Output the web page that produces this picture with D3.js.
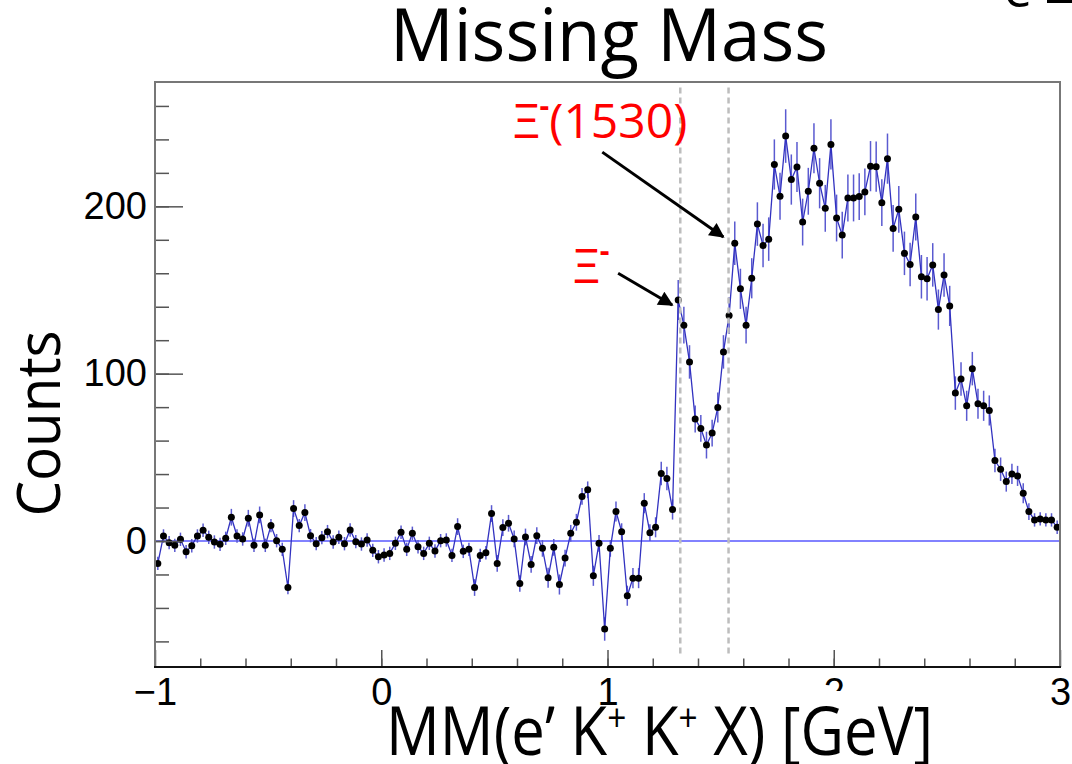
<!DOCTYPE html>
<html>
<head>
<meta charset="utf-8">
<script src="https://cdn.jsdelivr.net/npm/d3@7"></script>
<style>
  body { margin: 0; background: #fff; }
  svg { display: block; }
</style>
</head>
<body>
<svg id="chart" width="1072" height="764"></svg>
<script>
// histogram: 160 bins of 0.025 GeV from -1 to 3
var binLo = -1, binW = 0.025;
var counts = [
  -13.4, 3, -1, -2.6, 1, -6.4, -2.8, 3, 6.4, 2.2,
  -0.6, -2, 1.6, 14.2, 3, 1.2, 13.6, -2.6, 15.6, -2.6,
  9.2, 0.2, -5, -27.8, 19.4, 9.2, 17, 3.2, -1.6, 2,
  5.6, -0.6, 2.2, -1.6, 6.6, -0.4, -1.8, 0.6, -5.6, -9.4,
  -8.4, -7.4, -1.4, 5.2, -5, 4.6, -3.4, -7.4, -1.4, -6,
  0.2, 0.6, -8.6, 8.6, -6.2, -5, -27.8, -8.6, -7, 16.4,
  -13.4, 8, 10.6, 1.2, -25.4, 2.4, -14, 3.2, -4.4, -22,
  -3.8, -26, -10.2, 4.6, 11.2, 26.6, 30.6, -20.8, -1.4, -52.6,
  -4.4, 17.6, 5.6, -32.7, -22.2, -22.2, 22.6, 5, 8.2, 40.3,
  37.3, 18.8, 144, 129, 107, 72.9, 67.3, 57.3, 64.5, 79.8,
  113, 134.7, 178, 150.7, 129, 157, 189.4, 176.6, 180.4, 225,
  206, 242, 216, 223.5, 190.6, 209, 234.7, 213.8, 198.8, 237,
  193, 182.8, 205, 205, 205.8, 208.6, 224, 223.7, 202.2, 228.5,
  186.8, 198.2, 171.9, 165.3, 193.6, 157.9, 156.7, 165, 138.3, 159,
  140.5, 88.4, 96.8, 80.8, 103, 82, 80.8, 78, 48.1, 42.9,
  35.5, 40.1, 38.9, 28.5, 17.6, 12.6, 13.2, 12.6, 12.6, 8.2
];
var errors = [
  4, 4, 4, 4, 4, 4, 4, 4, 4, 4,
  4, 4, 4, 5, 4, 4, 5, 4, 5, 4,
  4, 4, 4, 4, 5, 4, 5, 4, 4, 4,
  4, 4, 4, 4, 4, 4, 4, 4, 4, 4,
  4, 4, 4, 4, 4, 4, 4, 4, 4, 4,
  4, 4, 4, 5, 4, 4, 5, 4, 4, 5,
  5, 5, 5, 5, 5, 5, 5, 5, 5, 6,
  5, 6, 5, 5, 5, 5, 5, 6, 5, 7,
  5, 6, 5, 6, 6, 6, 6, 5, 6, 7,
  7, 6, 12, 11, 10, 8, 8, 8, 8, 9,
  10, 11, 13, 12, 11, 12, 13, 13, 13, 15,
  14, 16, 15, 15, 14, 14, 15, 15, 14, 15,
  14, 14, 14, 14, 14, 14, 15, 15, 14, 15,
  14, 14, 13, 13, 14, 13, 13, 13, 12, 13,
  12, 10, 10, 9, 10, 9, 9, 9, 7, 7,
  6, 6, 6, 6, 5, 4, 4, 4, 4, 4
];

var xMajor = [-1, 0, 1, 2, 3];
var yMajor = [0, 100, 200];
var peakMasses = [1.3217, 1.535];   // Xi-, Xi(1530)
var title = "Missing Mass";
var yTitle = "Counts";

// annotations in data units: [x, y]
var labels = [
  {name: "(1530)", at: [0.583, 240.8], from: [0.977, 232.4], to: [1.512, 181.7]},
  {name: "",       at: [0.849, 154.2], from: [1.047, 160],   to: [1.286, 141]}
];

var svg = d3.select("#chart");
var x = d3.scaleLinear().domain([-1, 3]).range([155, 1060]);
var y = d3.scaleLinear().domain([-75.3, 274.3]).range([667, 82]);

var bins = counts.map(function(c, i) {
  return {x: binLo + (i + 0.5) * binW, y: c, e: errors[i]};
});

// stray fragment top right
svg.append("text").attr("x", 1004).attr("y", 7)
  .style("font-family", "Open Sans").style("font-size", "50px").text("e");
svg.append("rect").attr("x", 1047).attr("y", 0).attr("width", 25).attr("height", 3).attr("fill", "#000");

// title
svg.append("text")
  .attr("x", 390).attr("y", 61)
  .attr("textLength", 438).attr("lengthAdjust", "spacingAndGlyphs")
  .style("font-family", "Open Sans").style("font-size", "73px")
  .text(title);

// zero line
svg.append("line")
  .attr("x1", x(-1)).attr("x2", x(3))
  .attr("y1", y(0)).attr("y2", y(0))
  .attr("stroke", "#5858ff").attr("stroke-width", 1.5);

// error bars
svg.append("g").selectAll("line")
  .data(bins).enter().append("line")
  .attr("x1", function(d) { return x(d.x); })
  .attr("x2", function(d) { return x(d.x); })
  .attr("y1", function(d) { return y(d.y - d.e); })
  .attr("y2", function(d) { return y(d.y + d.e); })
  .attr("stroke", "#5a5ad0").attr("stroke-width", 1.5);

// connecting line
var line = d3.line()
  .x(function(d) { return x(d.x); })
  .y(function(d) { return y(d.y); });
svg.append("path").datum(bins)
  .attr("d", line)
  .attr("fill", "none")
  .attr("stroke", "#3232c0").attr("stroke-width", 1.3);

// markers
svg.append("g").selectAll("circle")
  .data(bins).enter().append("circle")
  .attr("cx", function(d) { return x(d.x); })
  .attr("cy", function(d) { return y(d.y); })
  .attr("r", 3.5)
  .attr("fill", "#000");

// dashed mass lines
svg.append("g").selectAll("line")
  .data(peakMasses).enter().append("line")
  .attr("x1", function(d) { return x(d); })
  .attr("x2", function(d) { return x(d); })
  .attr("y1", y(271)).attr("y2", y(-69.5))
  .attr("stroke", "#bdbdbd").attr("stroke-width", 2.5)
  .attr("stroke-dasharray", "6,4");

// axes, ROOT style ticks pointing inward
var yMinor = d3.axisLeft(y).tickValues(d3.range(-60, 261, 20)).tickSize(-14).tickFormat("");
var yAxis = d3.axisLeft(y).tickValues(yMajor).tickSize(-28).tickPadding(8);
var xMinor = d3.axisBottom(x).tickValues(d3.range(-0.8, 3, 0.2)).tickSize(-8.5).tickFormat("");
var xAxis = d3.axisBottom(x).tickValues(xMajor).tickSize(-17).tickPadding(11).tickFormat(d3.format("d"));

function styleAxis(g) {
  g.select(".domain").remove();
  g.selectAll(".tick line").attr("stroke", "#555").attr("stroke-width", 1.5);
  g.selectAll(".tick text").attr("fill", "#000")
    .style("font-family", "Liberation Sans").style("font-size", "38px");
}
svg.append("g").attr("transform", "translate(155,0)").call(yMinor).call(styleAxis);
svg.append("g").attr("transform", "translate(155,0)").call(yAxis).call(styleAxis);
svg.append("g").attr("transform", "translate(0,667)").call(xMinor).call(styleAxis);
svg.append("g").attr("transform", "translate(0,667)").call(xAxis).call(styleAxis);

// frame
svg.append("path")
  .attr("d", "M" + x(-1) + "," + y(-75.3) + "V" + y(274.3) + "H" + x(3) + "V" + y(-75.3))
  .attr("fill", "none").attr("stroke", "#777").attr("stroke-width", 2);
svg.append("line")
  .attr("x1", x(-1) - 1).attr("x2", x(3) + 1)
  .attr("y1", y(-75.3)).attr("y2", y(-75.3))
  .attr("stroke", "#111").attr("stroke-width", 2.2);

// y title
svg.append("text")
  .attr("transform", "translate(60,423.5) rotate(-90)")
  .attr("text-anchor", "middle")
  .attr("textLength", 186).attr("lengthAdjust", "spacingAndGlyphs")
  .style("font-family", "Open Sans").style("font-size", "60px")
  .text(yTitle);

// x title (white box hides lower part of the "2")
svg.append("rect").attr("x", 795).attr("y", 691).attr("width", 145).attr("height", 73).attr("fill", "#fff");
var xt = svg.append("text")
  .attr("x", 386).attr("y", 755)
  .attr("textLength", 547).attr("lengthAdjust", "spacingAndGlyphs")
  .style("font-family", "Open Sans").style("font-size", "68px");
xt.append("tspan").text("MM(e\u2019 K");
xt.append("tspan").attr("dy", -24).style("font-size", "38px").text("+");
xt.append("tspan").attr("dy", 24).text(" K");
xt.append("tspan").attr("dy", -24).style("font-size", "38px").text("+");
xt.append("tspan").attr("dy", 24).text(" X) [GeV]");

// annotations
svg.append("defs").append("marker")
  .attr("id", "head").attr("viewBox", "0 0 10 10")
  .attr("refX", 9).attr("refY", 5)
  .attr("markerWidth", 6).attr("markerHeight", 5)
  .attr("markerUnits", "strokeWidth")
  .attr("orient", "auto")
  .append("path").attr("d", "M0,0L10,5L0,10z").attr("fill", "#000");

labels.forEach(function(l) {
  svg.append("line")
    .attr("x1", x(l.from[0])).attr("y1", y(l.from[1]))
    .attr("x2", x(l.to[0])).attr("y2", y(l.to[1]))
    .attr("stroke", "#000").attr("stroke-width", 3)
    .attr("marker-end", "url(#head)");
  var t = svg.append("text")
    .attr("x", x(l.at[0])).attr("y", y(l.at[1]))
    .attr("fill", "#ff0000")
    .style("font-family", "Open Sans").style("font-size", "48px");
  t.append("tspan").text("\u039E");
  t.append("tspan").attr("dy", -22).style("font-size", "30px").style("font-weight", "bold").text("-");
  if (l.name) t.append("tspan").attr("dy", 22).style("font-weight", "normal").text(l.name);
});
</script>
</body>
</html>
